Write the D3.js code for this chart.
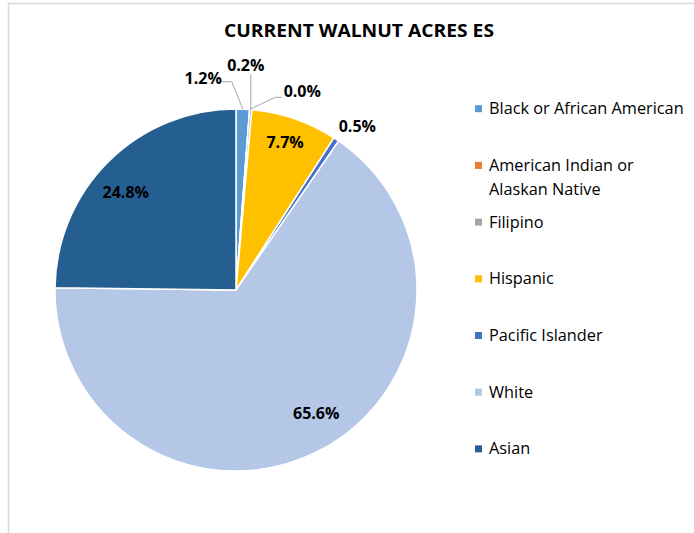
<!DOCTYPE html>
<html>
<head>
<meta charset="utf-8">
<script src="https://cdn.jsdelivr.net/npm/d3@7"></script>
<style>
  html, body { margin: 0; padding: 0; background: #fff; }
  svg { display: block; }
  text { font-family: "Open Sans", "Liberation Sans", Arial, sans-serif; }
</style>
</head>
<body>
<svg id="chart" width="694" height="533"></svg>
<script>
// ---- data ----
const title = "CURRENT WALNUT ACRES ES";
const categories = ["Black or African American", "American Indian or Alaskan Native", "Filipino", "Hispanic", "Pacific Islander", "White", "Asian"];
const legendLines = [["Black or African American"], ["American Indian or", "Alaskan Native"], ["Filipino"], ["Hispanic"], ["Pacific Islander"], ["White"], ["Asian"]];
const values = [1.2, 0.0, 0.2, 7.7, 0.5, 65.6, 24.8];
const colors = ["#5B9BD5", "#ED7D31", "#A5A5A5", "#FFC000", "#4472C4", "#B4C7E7", "#255E91"];

// ---- layout ----
const W = 694, H = 533;
const cx = 236, cy = 290, R = 181;
const svg = d3.select("#chart");

// frame
svg.append("rect").attr("x", 8.5).attr("y", 3.5).attr("width", W).attr("height", H)
  .attr("fill", "#fff").attr("stroke", "#D9D9D9").attr("stroke-width", 1.5);

// title
svg.append("text").attr("x", 359).attr("y", 37).attr("text-anchor", "middle")
  .attr("font-size", 18).attr("font-weight", "bold").attr("fill", "#000")
  .attr("textLength", 270).attr("lengthAdjust", "spacingAndGlyphs")
  .text(title);

const pie = d3.pie().sort(null).value(d => d);
const arcs = pie(values);
const arc = d3.arc().innerRadius(0).outerRadius(R);
const labelArc = d3.arc().innerRadius(R * 0.82).outerRadius(R * 0.82);

const g = svg.append("g").attr("transform", `translate(${cx},${cy})`);
g.selectAll("path").data(arcs).join("path")
  .attr("d", arc)
  .attr("fill", (d, i) => colors[i])
  .attr("stroke", "#fff").attr("stroke-width", 1.5).attr("stroke-linejoin", "round");

const fmt = v => v.toFixed(1) + "%";
const LFS = 16;

// inside labels for large slices (small nudges from centroid, best-fit style)
const insideNudge = { 3: [1, -7], 5: [12, -8], 6: [-6, 8] };
arcs.forEach((d, i) => {
  if (d.data >= 5) {
    const [x, y] = labelArc.centroid(d);
    const [nx, ny] = insideNudge[i] || [0, 0];
    g.append("text").attr("x", x + nx).attr("y", y + ny + 5.5).attr("text-anchor", "middle")
      .attr("font-size", LFS).attr("font-weight", "bold").attr("fill", "#000")
      .text(fmt(d.data));
  }
});

// outside labels (offsets relative to the slice's outer mid-point)
const outside = {
  0: { leader: [[-11, -27.4], [-21, -27.4]], tx: -21, ty: 2 - 27.4, anchor: "end" },
  1: { leader: [[25.4, -12.2], [32, -12.2]], tx: 34, ty: -13, anchor: "start" },
  2: { leader: [[0, -35]], tx: -5, ty: -38.5, anchor: "middle" },
  4: { leader: null, tx: 21, ty: -7.5, anchor: "middle" }
};
const outerPt = d => {
  const a = (d.startAngle + d.endAngle) / 2;
  return [R * Math.sin(a), -R * Math.cos(a)];
};
Object.keys(outside).forEach(k => {
  const i = +k, d = arcs[i], o = outside[k];
  const [px, py] = outerPt(d);
  if (o.leader) {
    const pts = [[px, py]].concat(o.leader.map(([dx, dy]) => [px + dx, py + dy]));
    g.append("path").attr("d", d3.line()(pts)).attr("fill", "none")
      .attr("stroke", "#A6A6A6").attr("stroke-width", 1);
  }
  g.append("text").attr("x", px + o.tx).attr("y", py + o.ty).attr("text-anchor", o.anchor)
    .attr("font-size", LFS).attr("font-weight", "bold").attr("fill", "#000")
    .text(fmt(d.data));
});

// legend
const ly0 = 108.7, lstep = 56.7;
const lg = svg.append("g");
legendLines.forEach((lines, i) => {
  const y = ly0 + i * lstep;
  lg.append("rect").attr("x", 475).attr("y", y - 3.5).attr("width", 7).attr("height", 7).attr("fill", colors[i]);
  lines.forEach((t, j) => {
    lg.append("text").attr("x", 489).attr("y", y + 5.5 + j * 24)
      .attr("font-size", 16.3).attr("fill", "#000").text(t);
  });
});
</script>
</body>
</html>
